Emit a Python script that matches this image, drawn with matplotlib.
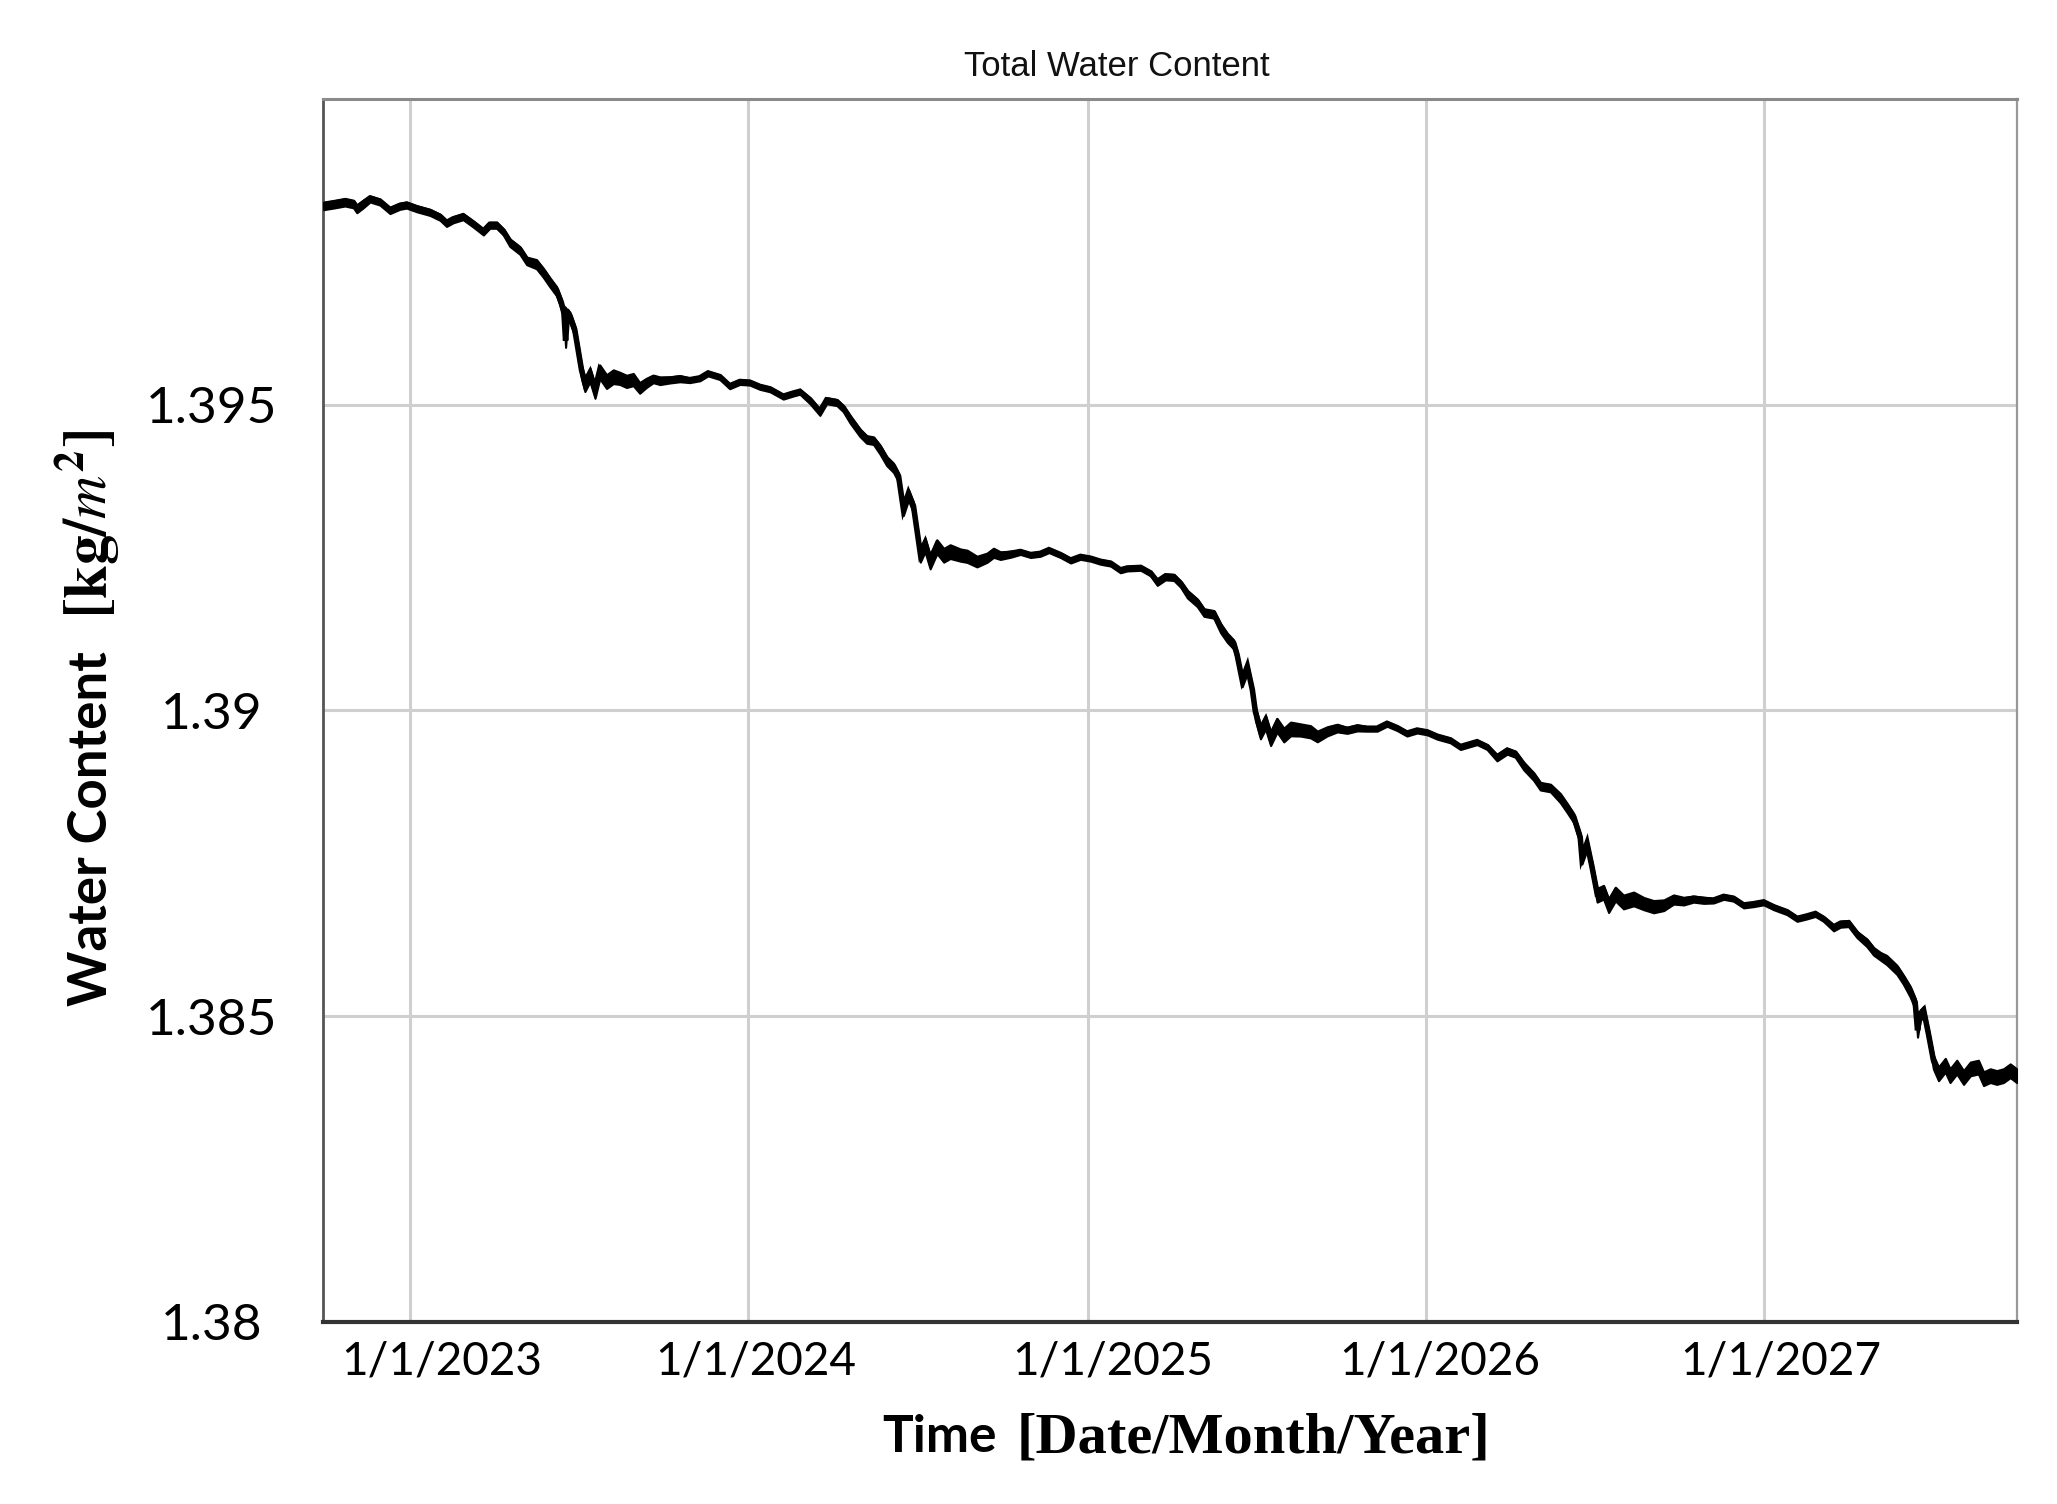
import numpy as np
import matplotlib
matplotlib.use("Agg")
import matplotlib.pyplot as plt
import matplotlib.transforms as mtransforms
from datetime import datetime

# ---------------- data ----------------
# time as decimal year, water content in kg/m^2
t_year = [
    2022.745, 2022.778, 2022.808, 2022.833, 2022.843, 2022.862, 2022.882, 2022.911,
    2022.941, 2022.970, 2022.990, 2023.020, 2023.059, 2023.089, 2023.108, 2023.128,
    2023.157, 2023.187, 2023.217, 2023.236, 2023.256, 2023.276, 2023.295, 2023.325,
    2023.345, 2023.374, 2023.394, 2023.414, 2023.433, 2023.448, 2023.455, 2023.460,
    2023.466, 2023.473, 2023.487, 2023.497, 2023.507, 2023.517, 2023.532, 2023.547,
    2023.561, 2023.581, 2023.601, 2023.620, 2023.640, 2023.660, 2023.679, 2023.699,
    2023.719, 2023.739, 2023.768, 2023.798, 2023.827, 2023.857, 2023.881, 2023.916,
    2023.945, 2023.975, 2024.004, 2024.034, 2024.064, 2024.103, 2024.132, 2024.152,
    2024.182, 2024.211, 2024.231, 2024.261, 2024.280, 2024.300, 2024.329, 2024.349,
    2024.369, 2024.388, 2024.408, 2024.428, 2024.443, 2024.457, 2024.472, 2024.487,
    2024.497, 2024.507, 2024.521, 2024.536, 2024.556, 2024.576, 2024.595, 2024.625,
    2024.645, 2024.674, 2024.704, 2024.723, 2024.743, 2024.773, 2024.802, 2024.832,
    2024.861, 2024.886, 2024.920, 2024.950, 2024.979, 2025.009, 2025.038,
    2025.068, 2025.097, 2025.117, 2025.157, 2025.186, 2025.206, 2025.230, 2025.255,
    2025.275, 2025.295, 2025.324, 2025.344, 2025.373, 2025.393, 2025.413, 2025.432,
    2025.442, 2025.457, 2025.472, 2025.487, 2025.496, 2025.511, 2025.526, 2025.541,
    2025.560, 2025.580, 2025.600, 2025.629, 2025.659, 2025.679, 2025.708, 2025.738,
    2025.767, 2025.797, 2025.826, 2025.856, 2025.885, 2025.915, 2025.944, 2025.974,
    2026.004, 2026.033, 2026.072,
    2026.102, 2026.151, 2026.181, 2026.210, 2026.240, 2026.264, 2026.289, 2026.318,
    2026.338, 2026.368, 2026.397, 2026.417, 2026.437, 2026.456, 2026.461, 2026.476,
    2026.491, 2026.506, 2026.525, 2026.540, 2026.560, 2026.584, 2026.614, 2026.644,
    2026.673, 2026.703, 2026.732, 2026.762, 2026.791, 2026.821, 2026.850, 2026.880,
    2026.909, 2026.939, 2026.968, 2026.998, 2027.028, 2027.067, 2027.097,
    2027.126, 2027.151, 2027.175, 2027.205, 2027.225, 2027.249, 2027.274, 2027.303,
    2027.323, 2027.343, 2027.362, 2027.392, 2027.411, 2027.431, 2027.446, 2027.453,
    2027.461, 2027.471, 2027.485, 2027.500, 2027.515, 2027.535, 2027.549, 2027.569,
    2027.589, 2027.609, 2027.633, 2027.648, 2027.668, 2027.687, 2027.707, 2027.727,
    2027.746,
]
water = [
    1.39827, 1.39830, 1.39833, 1.39830, 1.39822, 1.39830, 1.39838, 1.39833,
    1.39819, 1.39826, 1.39828, 1.39822, 1.39816, 1.39808, 1.39798, 1.39804,
    1.39809, 1.39797, 1.39784, 1.39795, 1.39795, 1.39784, 1.39767, 1.39754,
    1.39737, 1.39732, 1.39718, 1.39702, 1.39688, 1.39666, 1.39650, 1.39605,
    1.39650, 1.39645, 1.39623, 1.39590, 1.39557, 1.39536, 1.39552, 1.39525,
    1.39557, 1.39541, 1.39549, 1.39546, 1.39541, 1.39544, 1.39530, 1.39538,
    1.39544, 1.39541, 1.39542, 1.39544, 1.39541, 1.39544, 1.39552, 1.39546,
    1.39531, 1.39538, 1.39537, 1.39530, 1.39526, 1.39514, 1.39519, 1.39522,
    1.39508, 1.39489, 1.39508, 1.39505, 1.39495, 1.39478, 1.39456, 1.39445,
    1.39443, 1.39429, 1.39410, 1.39399, 1.39383, 1.39330, 1.39355, 1.39334,
    1.39295, 1.39257, 1.39274, 1.39246, 1.39271, 1.39257, 1.39263, 1.39257,
    1.39255, 1.39246, 1.39252, 1.39260, 1.39255, 1.39257, 1.39260, 1.39255,
    1.39257, 1.39263, 1.39255, 1.39246, 1.39252, 1.39249, 1.39244,
    1.39241, 1.39230, 1.39233, 1.39234, 1.39225, 1.39211, 1.39220, 1.39219,
    1.39208, 1.39192, 1.39178, 1.39162, 1.39159, 1.39137, 1.39121, 1.39110,
    1.39091, 1.39050, 1.39072, 1.39034, 1.38998, 1.38968, 1.38984, 1.38957,
    1.38979, 1.38963, 1.38973, 1.38971, 1.38968, 1.38960, 1.38968, 1.38973,
    1.38969, 1.38973, 1.38971, 1.38971, 1.38979, 1.38972, 1.38963, 1.38968,
    1.38965, 1.38958, 1.38952,
    1.38941, 1.38949, 1.38941, 1.38924, 1.38935, 1.38930, 1.38911, 1.38894,
    1.38878, 1.38875, 1.38859, 1.38843, 1.38826, 1.38793, 1.38760, 1.38783,
    1.38744, 1.38701, 1.38706, 1.38684, 1.38703, 1.38690, 1.38695, 1.38687,
    1.38682, 1.38684, 1.38693, 1.38690, 1.38693, 1.38691, 1.38690, 1.38696,
    1.38693, 1.38682, 1.38684, 1.38687, 1.38679, 1.38671, 1.38660,
    1.38664, 1.38668, 1.38660, 1.38646, 1.38652, 1.38653, 1.38635, 1.38622,
    1.38608, 1.38600, 1.38594, 1.38578, 1.38562, 1.38543, 1.38523, 1.38477,
    1.38504, 1.38510, 1.38472, 1.38428, 1.38409, 1.38423, 1.38406, 1.38420,
    1.38403, 1.38417, 1.38420, 1.38401, 1.38406, 1.38403, 1.38406, 1.38414,
    1.38406,
]
# half-width of the short-term fluctuation band around the curve (units of 1e-5 kg/m^2)
spread_1e5 = [
    5, 5, 5, 5, 5, 5, 4, 4,
    4, 4, 4, 4, 4, 4, 4, 4,
    4, 4, 4, 4, 4, 4, 5, 5,
    5, 6, 6, 6, 6, 7, 7, 7,
    7, 7, 7, 9, 9, 9, 9, 9,
    9, 9, 9, 8, 8, 8, 7, 6,
    5, 5, 4, 4, 3, 3, 3, 3,
    3, 3, 3, 3, 3, 3, 3, 3,
    4, 4, 4, 4, 4, 5, 5, 5,
    5, 6, 6, 6, 6, 7, 7, 7,
    9, 9, 9, 9, 9, 9, 9, 8,
    8, 7, 6, 6, 5, 4, 3, 3,
    3, 3, 3, 3, 3, 3, 3,
    3, 3, 3, 3, 3, 4, 4, 4,
    4, 5, 5, 5, 5, 6, 6, 6,
    7, 7, 7, 7, 9, 9, 9, 9,
    9, 9, 9, 8, 8, 7, 6, 5,
    4, 4, 3, 3, 3, 3, 3, 3,
    3, 3, 3,
    3, 3, 3, 4, 4, 4, 5, 5,
    5, 5, 6, 6, 6, 7, 7, 7,
    8, 9, 9, 9, 9, 9, 9, 8,
    8, 7, 6, 5, 4, 4, 3, 3,
    3, 3, 3, 3, 3, 3, 3,
    3, 3, 3, 4, 4, 4, 4, 5,
    5, 5, 6, 6, 6, 7, 7, 7,
    7, 7, 8, 9, 9, 9, 9, 9,
    9, 9, 9, 9, 9, 9, 9, 9,
    9,
]

tick_years = [2023, 2024, 2025, 2026, 2027]
xtick_labels = ["1/1/2023", "1/1/2024", "1/1/2025", "1/1/2026", "1/1/2027"]
ytick_values = [1.38, 1.385, 1.39, 1.395]
ytick_labels = ["1.38", "1.385", "1.39", "1.395"]
x_limits_year = [2022.743, 2027.747]
y_limits = [1.38, 1.40]


def dec_to_dt(y):
    yr = int(np.floor(y))
    start = datetime(yr, 1, 1)
    end = datetime(yr + 1, 1, 1)
    return start + (end - start) * (y - yr)


dates = [dec_to_dt(v) for v in t_year]
w = np.array(water)
s = np.array(spread_1e5) * 1.0e-5

plt.rcParams['mathtext.fontset'] = 'stix'

W, H = 2057, 1504
fig = plt.figure(figsize=(W / 100, H / 100), dpi=100)
ax = fig.add_axes([323 / W, 1 - 1322 / H, (2017 - 323) / W, (1322 - 99) / H])

# fluctuation band (spikes mostly point downwards in the reference)
ax.fill_between(dates, w - 1.6 * s, w + 0.9 * s, color='black', lw=1.5, zorder=3)
ax.plot(dates, w, color='black', lw=4.0, solid_joinstyle='miter', zorder=3)

ax.set_xlim(dec_to_dt(x_limits_year[0]), dec_to_dt(x_limits_year[1]))
ax.set_ylim(*y_limits)
ax.set_xticks([datetime(y, 1, 1) for y in tick_years])
ax.set_xticklabels(xtick_labels, fontfamily='Lato', fontsize=33)
ax.set_yticks(ytick_values)
ax.set_yticklabels(ytick_labels, fontfamily='Lato', fontsize=37)
ax.grid(True, color='#cfcfcf', lw=2.2, zorder=0)
ax.set_axisbelow(True)
ax.tick_params(axis='both', length=0)
ax.tick_params(axis='y', pad=80)
ax.tick_params(axis='x', pad=13)
for lab in ax.get_yticklabels():
    lab.set_horizontalalignment('center')

# slight horizontal offsets of the date labels as in the reference
dx_px = [32, 7, 25, 14, 17]
for lab, dx in zip(ax.get_xticklabels(), dx_px):
    lab.set_transform(lab.get_transform() +
                      mtransforms.ScaledTranslation(dx / 100, 0, fig.dpi_scale_trans))

ax.spines['left'].set_color('#555555')
ax.spines['left'].set_linewidth(2.0)
ax.spines['bottom'].set_color('#333333')
ax.spines['bottom'].set_linewidth(3.0)
ax.spines['top'].set_color('#8a8a8a')
ax.spines['top'].set_linewidth(2.2)
ax.spines['right'].set_color('#999999')
ax.spines['right'].set_linewidth(1.6)

# title
fig.text(1117 / W, 1 - 66 / H, "Total Water Content", ha='center', va='center',
         fontfamily='Liberation Sans', fontsize=25, color='#111111')

# x label: sans part + serif part
fig.text(997 / W, 1 - 1452 / H, "Time", ha='right', va='baseline',
         fontfamily='Lato', fontweight='bold', fontsize=37)
fig.text(1017 / W, 1 - 1452 / H, "[Date/Month/Year]", ha='left', va='baseline',
         fontfamily='Liberation Serif', fontweight='bold', fontsize=42)

# y label: sans part + serif part
fig.text(107 / W, 1 - 1006 / H, "Water Content", rotation=90, rotation_mode='anchor',
         ha='left', va='baseline', fontfamily='Lato', fontweight='bold', fontsize=38)
fig.text(107 / W, 1 - 618 / H, r"$\mathbf{[kg/}\mathit{m}^{\mathbf{2}}\mathbf{]}$",
         rotation=90, rotation_mode='anchor', ha='left', va='baseline', fontsize=43)

fig.savefig("out.png", dpi=100)
